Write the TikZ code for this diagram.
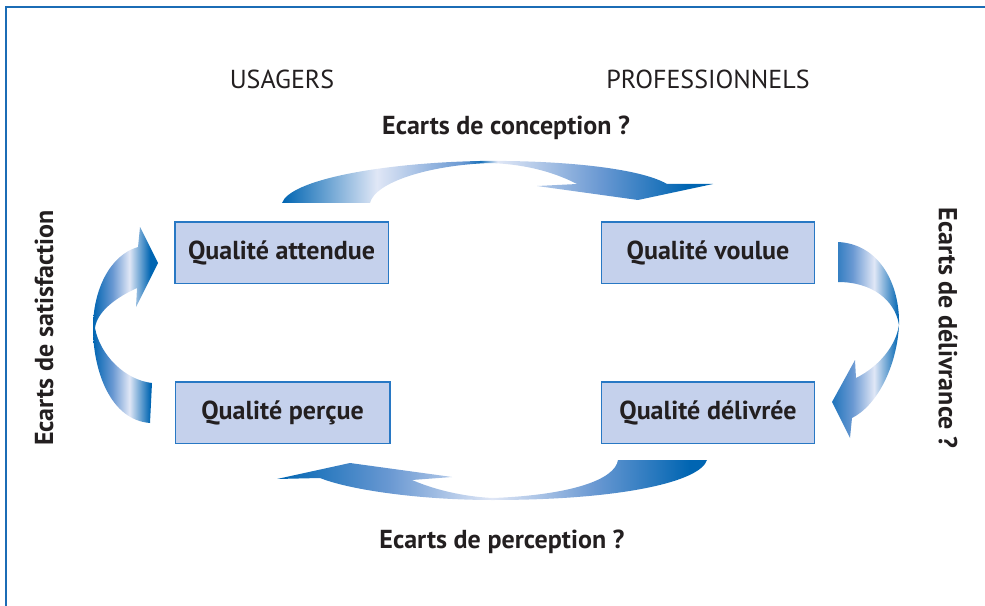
\documentclass[tikz,border=0pt]{standalone}
\usepackage{fontspec}
\setmainfont{PT Sans}
\usepackage{tikz}
\usetikzlibrary{calc}
\definecolor{ribbondark}{RGB}{0,101,178}
\definecolor{ribbonmid}{RGB}{105,152,210}
\definecolor{ribbonlight}{RGB}{224,231,246}
\definecolor{boxfill}{RGB}{197,209,236}
\definecolor{boxline}{RGB}{40,120,196}
\definecolor{frameline}{RGB}{27,108,181}
\definecolor{inktext}{RGB}{35,31,32}
\pgfdeclarehorizontalshading{ribbontop}{100bp}{color(0bp)=(ribbondark); color(25bp)=(ribbondark); color(36bp)=(ribbonlight); color(46bp)=(ribbonmid); color(48bp)=(ribbondark!80!ribbonmid); color(50bp)=(ribbonlight); color(62bp)=(ribbonmid); color(72bp)=(ribbondark); color(100bp)=(ribbondark)}
\pgfdeclarehorizontalshading{ribbonbottom}{100bp}{color(0bp)=(ribbondark); color(25bp)=(ribbondark); color(38bp)=(ribbonmid); color(50bp)=(ribbonlight); color(62bp)=(ribbonmid); color(73bp)=(ribbondark); color(100bp)=(ribbondark)}
\pgfdeclarehorizontalshading{ribbonleft}{100bp}{color(0bp)=(ribbondark); color(25bp)=(ribbondark); color(40bp)=(ribbonmid); color(53bp)=(ribbonlight); color(69bp)=(ribbondark); color(100bp)=(ribbondark)}
\pgfdeclarehorizontalshading{ribbonright}{100bp}{color(0bp)=(ribbondark); color(25bp)=(ribbondark!70!ribbonmid); color(40bp)=(ribbonmid); color(56bp)=(ribbonlight); color(74bp)=(ribbondark); color(100bp)=(ribbondark)}
\tikzset{
  qualbox/.style={draw=boxline, line width=1pt, fill=boxfill, minimum width=160pt, minimum height=46pt, inner sep=0pt, font=\fontsize{19.5}{23}\selectfont\bfseries, text=inktext},
  headtxt/.style={font=\fontsize{19.5}{23}\selectfont, text=inktext},
  gaptxt/.style={font=\fontsize{19.5}{23}\selectfont\bfseries, text=inktext}
}

\begin{document}
\begin{tikzpicture}[x=0.75pt,y=-0.75pt]
		%%%%% START %%%%%
		\useasboundingbox (0,0) rectangle (985,606);
		\draw[frameline, line width=1.6pt] (6,606) -- (6,7) -- (985,7);
		
		\node[headtxt] (usagers) at (282,79) {USAGERS};
		\node[headtxt] (pros) at (708,79) {PROFESSIONNELS};
		\node[gaptxt] (conception) at (506,128) {Ecarts de conception ?};
		\node[gaptxt] (perception) at (502,542) {Ecarts de perception ?};
		\node[gaptxt, rotate=90] (satisfaction) at (44,328) {Ecarts de satisfaction};
		\node[gaptxt, rotate=-90] (delivrance) at (948,328) {Ecarts de délivrance ?};
		
		\node[qualbox] (attendue) at (281.5,252.5) {Qualité attendue};
		\node[qualbox] (voulue) at (708,252.5) {Qualité voulue};
		\node[qualbox, minimum width=161pt] (percue) at (282.5,412.5) {Qualité perçue};
		\node[qualbox] (delivree) at (708,412.5) {Qualité délivrée};
		
		% top ribbon
		\shade[shading=ribbontop] (282,203) .. controls (290,180) and (380,163) .. (480,161)
			.. controls (560,160) and (640,168) .. (667,184) -- (713,184) -- (638,200) -- (537,186) -- (577,184)
			.. controls (550,170) and (520,164) .. (490,163)
			.. controls (430,165) and (375,182) .. (370,203) -- cycle;
		
		% right ribbon
		\shade[shading=ribbonright] (838,242) .. controls (880,244) and (900,285) .. (899,325)
			.. controls (897,365) and (878,405) .. (852,418) -- (850,438) -- (832,402) -- (855,360) -- (856,378)
			.. controls (880,366) and (896,345) .. (899,325)
			.. controls (895,300) and (872,282) .. (838,282) -- cycle;
		
		% bottom ribbon
		\shade[shading=ribbonbottom] (707,460) .. controls (700,482) and (620,500) .. (493,500)
			.. controls (420,500) and (350,490) .. (320,478) -- (277,479) -- (350,463) -- (452,477) -- (412,480)
			.. controls (440,492) and (470,497) .. (493,498)
			.. controls (570,495) and (615,480) .. (618,460) -- cycle;
		
		% left ribbon
		\shade[shading=ribbonleft] (158,263) -- (136,307) -- (137,288)
			.. controls (115,298) and (97,312) .. (95,328)
			.. controls (100,355) and (125,380) .. (152,383) -- (150,423)
			.. controls (110,420) and (93,370) .. (93,328)
			.. controls (93,290) and (110,255) .. (138,247) -- (140,227) -- cycle;
		%%%%% END %%%%%
	\end{tikzpicture}
\end{document}
